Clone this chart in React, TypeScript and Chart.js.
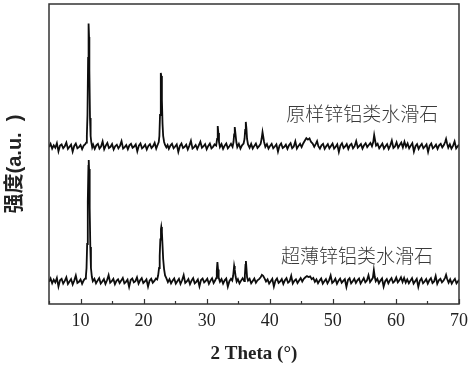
import { useEffect, useRef } from 'react';
import { Chart, registerables } from 'chart.js';

Chart.register(...registerables);

// 2θ axis range and tick values
const xRange = [5, 70];
const yRange = [0, 100];
const majorTicks = [10, 20, 30, 40, 50, 60, 70];
const minorTicks = [5, 15, 25, 35, 45, 55, 65];

// series names and where their labels sit (2θ, intensity)
const seriesNames = ['原样锌铝类水滑石', '超薄锌铝类水滑石'];
const labelAnchors = [
  [42.6, 63.3],
  [41.8, 16],
];
const xTitle = '2 Theta (°)';
const yTitle = '强度(a.u.  )';

// upper trace: 原样 (offset intensity, a.u.)
const originalPattern = [
  [5,52.3],[5.25,53.4],[5.5,51.8],[5.75,52.9],[6,52.1],[6.25,53.6],[6.5,50.9],[6.75,52.8],[7,53.2],[7.25,51.9],[7.5,52.6],[7.75,53.8],[8,51.7],[8.25,52.4],[8.5,53.1],[8.75,50.8],[9,52.7],[9.25,53.5],[9.5,51.9],[9.75,52.3],[10,53],[10.25,51.6],[10.5,52.8],[10.75,53.3],[10.9,53.8],[11,56],[11.1,63],[11.2,82],[11.25,90],[11.3,93.5],[11.35,89],[11.4,78],[11.5,62],[11.6,56],[11.7,54],[11.85,52.2],[12,53.1],[12.25,51.7],[12.5,52.9],[12.75,53.4],[13,51.8],[13.25,52.5],[13.5,54.2],[13.75,51.6],[14,52.8],[14.25,53.7],[14.5,52],[14.75,52.4],[15,53.3],[15.25,51.5],[15.5,52.6],[15.75,53.1],[16,51.9],[16.25,52.7],[16.5,54.3],[16.75,51.8],[17,52.3],[17.25,53],[17.5,51.6],[17.75,52.9],[18,53.4],[18.25,52.1],[18.5,52.5],[18.75,53.2],[19,50.9],[19.25,52.8],[19.5,53.5],[19.75,51.9],[20,52.4],[20.25,53.1],[20.5,51.5],[20.75,52.7],[21,53.3],[21.25,52],[21.5,52.6],[21.75,53.7],[22,51.8],[22.2,52.9],[22.4,54],[22.5,56],[22.6,63],[22.7,73],[22.75,77],[22.8,76],[22.9,68],[23,60],[23.1,56],[23.25,54],[23.4,53],[23.6,52.2],[23.8,53],[24,51.7],[24.25,52.8],[24.5,53.4],[24.75,51.9],[25,52.5],[25.25,53.2],[25.5,50.7],[25.75,52.7],[26,53.5],[26.25,52],[26.5,52.4],[26.75,53.1],[27,51.5],[27.25,52.8],[27.5,54.4],[27.75,51.8],[28,52.3],[28.25,53],[28.5,51.7],[28.75,52.9],[29,54.1],[29.25,52.1],[29.5,52.6],[29.75,53.3],[30,51.6],[30.25,52.7],[30.5,53.5],[30.75,51.9],[31,52.4],[31.25,53.2],[31.5,52.8],[31.65,55],[31.75,59.3],[31.85,57],[31.95,54],[32.1,52.3],[32.35,53.3],[32.6,51.7],[32.85,52.8],[33.1,53.5],[33.35,51.9],[33.6,52.6],[33.85,53.4],[34.1,52.4],[34.25,54],[34.35,56.5],[34.45,59],[34.55,57],[34.7,54],[34.85,52.3],[35.1,53.4],[35.35,51.8],[35.6,52.9],[35.85,53.5],[36,55],[36.1,58],[36.2,60.7],[36.3,58.5],[36.4,55],[36.55,53.2],[36.8,52.1],[37.05,53.4],[37.3,51.8],[37.55,52.7],[37.8,53.5],[38.05,52],[38.3,52.6],[38.55,53.4],[38.7,55],[38.85,57.3],[38.95,56],[39.1,54],[39.3,52.4],[39.55,53.3],[39.8,51.8],[40.05,52.7],[40.3,53.4],[40.55,51.9],[40.8,52.5],[41.05,53.2],[41.3,50.8],[41.55,52.8],[41.8,53.5],[42.05,52],[42.3,52.4],[42.55,53.1],[42.8,51.7],[43.05,52.9],[43.3,53.6],[43.55,51.9],[43.8,52.5],[44.05,54.2],[44.3,51.8],[44.55,52.7],[44.8,53.4],[45.05,52.3],[45.3,53.5],[45.55,54.4],[45.8,55.3],[46.05,54.8],[46.3,55.2],[46.55,54],[46.8,53.5],[47.05,52.4],[47.3,53.4],[47.5,54.3],[47.7,52.6],[47.95,51.8],[48.2,52.9],[48.45,53.4],[48.7,51.7],[48.95,52.6],[49.2,53.3],[49.45,51.9],[49.7,52.7],[49.95,53.5],[50.2,51.8],[50.45,52.4],[50.7,53.2],[50.95,50.7],[51.2,52.8],[51.45,53.6],[51.7,52],[51.95,52.5],[52.2,53.3],[52.45,51.7],[52.7,52.9],[52.95,53.4],[53.2,51.9],[53.45,52.6],[53.7,54.3],[53.95,52.1],[54.2,52.7],[54.45,53.3],[54.7,51.8],[54.95,52.9],[55.2,53.6],[55.45,52.3],[55.7,53],[55.95,53.7],[56.2,52.6],[56.4,54],[56.55,56.3],[56.7,54.5],[56.85,52.8],[57.1,53.4],[57.35,51.9],[57.6,52.7],[57.85,53.5],[58.1,51.8],[58.35,52.6],[58.6,53.3],[58.85,51.7],[59.1,52.8],[59.35,54.5],[59.6,52],[59.85,52.5],[60.1,53.9],[60.35,52.1],[60.6,53],[60.85,53.8],[61.1,52.2],[61.35,54.1],[61.6,52.4],[61.85,53.5],[62.1,51.9],[62.35,52.8],[62.6,53.6],[62.85,50.8],[63.1,52.6],[63.35,53.3],[63.6,51.7],[63.85,52.7],[64.1,53.4],[64.35,51.9],[64.6,52.5],[64.85,53.2],[65.1,50.7],[65.35,52.8],[65.6,53.5],[65.85,51.9],[66.1,52.4],[66.35,53.1],[66.6,51.7],[66.85,52.9],[67.1,53.4],[67.35,52.2],[67.6,53],[67.8,54],[67.95,55],[68.1,53.6],[68.3,52.1],[68.55,53.2],[68.8,51.8],[69.05,52.7],[69.3,54.2],[69.55,51.9],[69.8,52.6],[70,53.1],
];

// lower trace: 超薄 (offset intensity, a.u.)
const ultrathinPattern = [
  [5,7.4],[5.25,8.5],[5.5,6.9],[5.75,8.1],[6,7.2],[6.25,8.7],[6.5,5.8],[6.75,7.9],[7,8.4],[7.25,6.8],[7.5,7.7],[7.75,8.9],[8,6.7],[8.25,7.5],[8.5,8.3],[8.75,6.5],[9,7.8],[9.25,9.5],[9.5,7],[9.75,7.4],[10,8.2],[10.25,6.7],[10.5,7.9],[10.75,8.5],[10.85,9.2],[10.95,12],[11.05,20],[11.15,34],[11.25,46],[11.3,48],[11.35,45],[11.45,32],[11.55,19],[11.65,12],[11.8,9],[11.95,7.6],[12.2,8.4],[12.45,6.9],[12.7,7.8],[12.95,8.6],[13.2,6.8],[13.45,7.5],[13.7,8.3],[13.95,6.7],[14.2,7.9],[14.45,9.6],[14.7,7.1],[14.95,7.6],[15.2,8.4],[15.45,6.6],[15.7,7.7],[15.95,8.2],[16.2,7],[16.45,7.8],[16.7,8.7],[16.95,6.9],[17.2,7.4],[17.45,8.1],[17.7,5.7],[17.95,8],[18.2,8.5],[18.45,7.2],[18.7,7.6],[18.95,8.9],[19.2,6.8],[19.45,7.9],[19.7,8.6],[19.95,7],[20.2,7.5],[20.45,8.2],[20.7,5.8],[20.95,7.8],[21.2,8.4],[21.45,7.1],[21.7,7.7],[21.95,8.5],[22.15,8.2],[22.3,9.5],[22.45,12],[22.55,16],[22.65,21.5],[22.75,25],[22.8,25.7],[22.9,24],[23,19.5],[23.1,15],[23.25,11.5],[23.4,9.5],[23.6,8.6],[23.85,7.3],[24.1,8.3],[24.35,6.9],[24.6,7.8],[24.85,8.5],[25.1,6.8],[25.35,7.6],[25.6,8.4],[25.85,6.7],[26.1,7.9],[26.35,9.6],[26.6,7],[26.85,7.5],[27.1,8.3],[27.35,6.6],[27.6,7.8],[27.85,8.6],[28.1,6.9],[28.35,7.4],[28.6,8.2],[28.85,5.9],[29.1,8],[29.35,8.5],[29.6,7.2],[29.85,7.7],[30.1,8.4],[30.35,6.7],[30.6,7.8],[30.85,8.6],[31.1,7],[31.35,7.9],[31.5,8.6],[31.6,11],[31.7,14],[31.8,11.5],[31.9,8.8],[32.1,7.4],[32.35,8.3],[32.6,6.8],[32.85,7.9],[33.1,8.5],[33.35,5.8],[33.6,7.6],[33.85,8.4],[34.05,7.8],[34.2,9.5],[34.35,12.7],[34.45,11.5],[34.6,9],[34.75,7.5],[34.95,8.3],[35.2,6.9],[35.45,7.8],[35.7,8.6],[35.95,7.6],[36.05,9.5],[36.15,13],[36.22,14.3],[36.3,12],[36.4,9],[36.55,7.8],[36.8,8.4],[37.05,6.9],[37.3,7.7],[37.55,8.5],[37.8,7.1],[38.05,7.9],[38.3,8.3],[38.55,8.9],[38.75,9.7],[38.95,9.4],[39.15,8.6],[39.4,7.5],[39.65,8.2],[39.9,6.8],[40.15,7.6],[40.4,8.4],[40.65,5.8],[40.9,7.8],[41.15,8.5],[41.4,7],[41.65,7.5],[41.9,8.3],[42.15,6.7],[42.4,7.9],[42.65,8.6],[42.9,7.1],[43.15,7.6],[43.4,9.4],[43.65,6.8],[43.9,7.7],[44.15,8.2],[44.4,7],[44.65,7.8],[44.9,8.6],[45.15,7.5],[45.4,8.4],[45.65,8.9],[45.9,9.3],[46.15,9],[46.4,9.2],[46.65,8.3],[46.9,8.7],[47.15,7.4],[47.4,8.2],[47.65,6.9],[47.9,7.8],[48.15,8.5],[48.4,6.8],[48.65,7.6],[48.9,8.3],[49.15,6.9],[49.4,7.9],[49.65,9.5],[49.9,7],[50.15,7.5],[50.4,8.4],[50.65,6.7],[50.9,7.8],[51.15,8.5],[51.4,7.1],[51.65,7.7],[51.9,8.3],[52.15,5.7],[52.4,8],[52.65,8.6],[52.9,6.9],[53.15,7.6],[53.4,8.4],[53.65,7],[53.9,7.9],[54.15,8.5],[54.4,6.8],[54.65,7.7],[54.9,8.6],[55.15,7.2],[55.4,7.8],[55.65,9.6],[55.9,7.3],[56.15,8.1],[56.35,8.8],[56.5,11.3],[56.65,9],[56.8,7.6],[57.05,8.4],[57.3,6.9],[57.55,7.8],[57.8,8.5],[58.05,5.8],[58.3,7.6],[58.55,8.3],[58.8,6.9],[59.05,7.9],[59.3,8.6],[59.55,7.1],[59.8,7.6],[60.05,8.8],[60.3,7.2],[60.55,7.9],[60.8,8.9],[61.05,7.3],[61.3,8.7],[61.55,7.1],[61.8,8.2],[62.05,6.9],[62.3,7.8],[62.55,8.6],[62.8,6.8],[63.05,7.6],[63.3,8.4],[63.55,5.7],[63.8,7.8],[64.05,8.5],[64.3,6.9],[64.55,7.5],[64.8,8.3],[65.05,6.8],[65.3,7.9],[65.55,8.6],[65.8,7],[66.05,7.5],[66.3,9.3],[66.55,6.7],[66.8,7.9],[67.05,8.4],[67.3,7.2],[67.55,7.8],[67.8,8.8],[67.95,9.7],[68.1,8.5],[68.35,7.1],[68.6,8.2],[68.85,6.8],[69.1,7.7],[69.35,8.4],[69.6,6.9],[69.85,7.6],[70,8.1],
];

const decorPlugin = {
  id: 'decor',
  afterDatasetsDraw(chart: any) {
    const { ctx, chartArea: a, scales } = chart;
    const x = scales.x;
    const y = scales.y;
    ctx.save();
    // frame
    ctx.strokeStyle = '#333';
    ctx.lineWidth = 1.5;
    ctx.strokeRect(a.left, a.top, a.right - a.left, a.bottom - a.top);
    // inward ticks
    ctx.lineWidth = 1.2;
    ctx.beginPath();
    for (const v of majorTicks) {
      const px = Math.round(x.getPixelForValue(v)) + 0.5;
      ctx.moveTo(px, a.bottom);
      ctx.lineTo(px, a.bottom - 5);
    }
    for (const v of minorTicks) {
      const px = Math.round(x.getPixelForValue(v)) + 0.5;
      ctx.moveTo(px, a.bottom);
      ctx.lineTo(px, a.bottom - 3);
    }
    ctx.stroke();
    // series labels
    ctx.fillStyle = '#3a3a3a';
    ctx.font = '300 19px "Noto Sans CJK SC"';
    ctx.textBaseline = 'middle';
    ctx.textAlign = 'left';
    seriesNames.forEach((t, i) => {
      ctx.fillText(t, x.getPixelForValue(labelAnchors[i][0]), y.getPixelForValue(labelAnchors[i][1]));
    });
    // y-axis title
    ctx.translate(15, (a.top + a.bottom) / 2 + 10);
    ctx.rotate(-Math.PI / 2);
    ctx.fillStyle = '#222';
    ctx.font = 'bold 20px "Liberation Sans", "Noto Sans CJK SC"';
    ctx.textAlign = 'center';
    ctx.fillText(yTitle, 0, 0);
    ctx.restore();
  },
};

export default function App() {
  const ref = useRef<HTMLCanvasElement | null>(null);

  useEffect(() => {
    document.body.style.margin = '0';
    const canvas = ref.current;
    if (!canvas) return;
    const chart = new Chart(canvas, {
      type: 'line',
      data: {
        datasets: [
          {
            label: seriesNames[0],
            data: originalPattern as any,
            borderColor: '#0d0d0d',
            borderWidth: 1.8,
            pointRadius: 0,
            tension: 0,
          },
          {
            label: seriesNames[1],
            data: ultrathinPattern as any,
            borderColor: '#0d0d0d',
            borderWidth: 1.8,
            pointRadius: 0,
            tension: 0,
          },
        ],
      },
      options: {
        animation: false,
        responsive: false,
        devicePixelRatio: 1,
        layout: { padding: { left: 49, right: 12, top: 4, bottom: 0 } },
        plugins: {
          legend: { display: false },
          tooltip: { enabled: false },
        },
        scales: {
          x: {
            type: 'linear',
            min: xRange[0],
            max: xRange[1],
            grid: { display: false, drawTicks: false },
            border: { display: false },
            afterBuildTicks: (s: any) => {
              s.ticks = majorTicks.map((v) => ({ value: v }));
            },
            afterFit: (s: any) => {
              s.height = 63;
            },
            ticks: {
              padding: 6,
              color: '#222',
              font: { family: '"Liberation Serif"', size: 18 },
              maxRotation: 0,
            },
            title: {
              display: true,
              text: xTitle,
              color: '#222',
              font: { family: '"Liberation Serif"', size: 19, weight: 'bold' },
              padding: { top: 0, bottom: 1.5 },
            },
          },
          y: {
            display: false,
            min: yRange[0],
            max: yRange[1],
          },
        },
      },
      plugins: [decorPlugin],
    });
    return () => chart.destroy();
  }, []);

  return (
    <div style={{ width: 474, height: 367 }}>
      <canvas ref={ref} width={474} height={367} />
    </div>
  );
}
